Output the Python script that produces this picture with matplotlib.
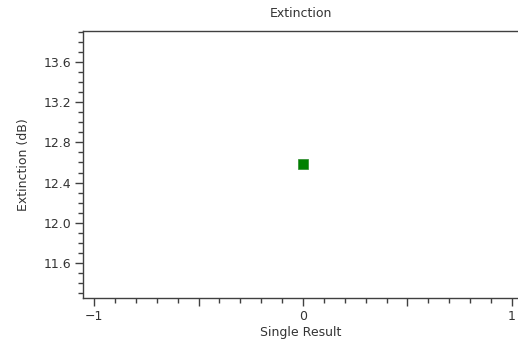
import matplotlib
matplotlib.use('Agg')
import matplotlib.pyplot as plt
from matplotlib.ticker import MultipleLocator, FuncFormatter

# Dades
x_vals = [0]
y_vals = [12.58]
x_lim = (-1.053, 1.029)
y_lim = (11.255, 13.905)

gris = '#404040'
plt.rcParams['font.family'] = 'DejaVu Sans'
plt.rcParams['font.size'] = 9

fig = plt.figure(figsize=(5.18, 3.43), dpi=100)
ax = fig.add_axes([83/518, 1 - 298/343, 1 - 83/518, (298 - 31)/343])

ax.plot(x_vals, y_vals, 's', color='#008000', markersize=7, markeredgewidth=0.5,
        markeredgecolor='#2a8a2a')

ax.set_xlim(*x_lim)
ax.set_ylim(*y_lim)

ax.spines['right'].set_visible(False)
for s in ['left', 'top', 'bottom']:
    ax.spines[s].set_color(gris)
    ax.spines[s].set_linewidth(1.0)

ax.xaxis.set_major_locator(MultipleLocator(0.5))
ax.xaxis.set_minor_locator(MultipleLocator(0.1))
ax.xaxis.set_major_formatter(FuncFormatter(
    lambda v, p: (f'{int(round(v))}'.replace('-', '\u2212') if abs(v - round(v)) < 1e-6 else '')))
ax.yaxis.set_major_locator(MultipleLocator(0.4))
ax.yaxis.set_minor_locator(MultipleLocator(0.1))
ax.yaxis.set_major_formatter(FuncFormatter(lambda v, p: f'{v:.1f}'))

ax.tick_params(which='major', length=6, width=1, color=gris, labelcolor='#333333', pad=2.5)
ax.tick_params(which='minor', length=3.5, width=1, color=gris)

ax.set_title('Extinction', fontsize=9, color='#333333', pad=10)
ax.set_xlabel('Single Result', fontsize=9, color='#333333', labelpad=2)
ax.set_ylabel('Extinction (dB)', fontsize=9, color='#333333', labelpad=10)

fig.savefig('out.png', dpi=100)
